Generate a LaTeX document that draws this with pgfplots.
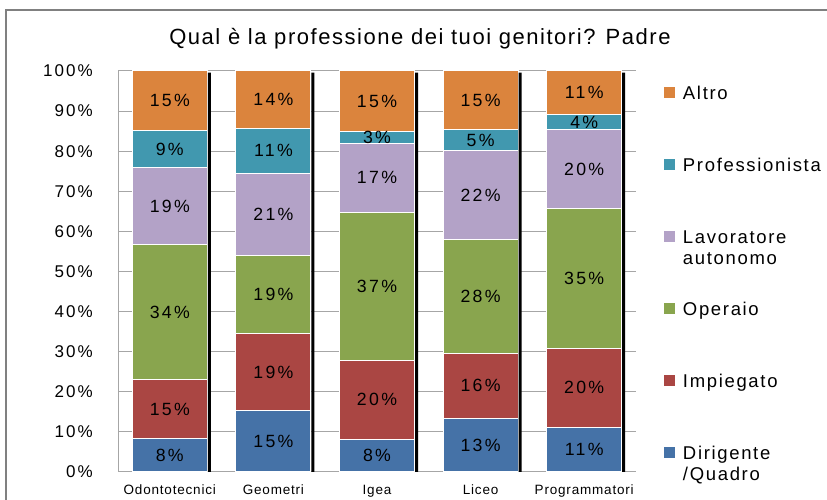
\documentclass[border=0pt]{standalone}
\usepackage{pgfplots}
\pgfplotsset{compat=1.18}
\usepackage{pgfplotstable}
\usepackage{fontspec}
\setmainfont{Liberation Sans}[LetterSpace=6]
\newfontfamily\titlefont{Liberation Sans}[LetterSpace=7]
\newfontfamily\tickfont{Liberation Sans}[LetterSpace=12]
\newfontfamily\labfont{Liberation Sans}[LetterSpace=13]
\newfontfamily\legfont{Liberation Sans}[LetterSpace=9]
\definecolor{cblue}{HTML}{4572A7}
\definecolor{cred}{HTML}{AA4643}
\definecolor{cgreen}{HTML}{89A54E}
\definecolor{cpurple}{HTML}{B3A2C7}
\definecolor{cteal}{HTML}{4198AF}
\definecolor{corange}{HTML}{DB843D}
\definecolor{cgrid}{HTML}{A6A6A6}
\definecolor{cframe}{HTML}{808080}
\pgfplotstableread{
x dir imp ope lav pro alt
0 8.4 14.6 33.7 19.2 9.2 14.9
1 15.3 19.3 19.3 20.6 11.2 14.3
2 8.2 19.7 36.9 17.2 3.0 15.0
3 13.4 16.2 28.4 22.2 5.1 14.7
4 11.2 19.7 34.7 19.7 3.8 10.9
}\data
\pgfplotstableread{
x y l
0 4.2 8\%
0 15.7 15\%
0 39.85 34\%
0 66.3 19\%
0 80.5 9\%
0 92.55 15\%
1 7.65 15\%
1 24.95 19\%
1 44.25 19\%
1 64.2 21\%
1 80.1 11\%
1 92.85 14\%
2 4.1 8\%
2 18.05 20\%
2 46.35 37\%
2 73.4 17\%
2 83.5 3\%
2 92.5 15\%
3 6.7 13\%
3 21.5 16\%
3 43.8 28\%
3 69.1 22\%
3 82.75 5\%
3 92.65 15\%
4 5.6 11\%
4 21.05 20\%
4 48.25 35\%
4 75.45 20\%
4 87.2 4\%
4 94.55 11\%
}\labels
\begin{document}
\begin{tikzpicture}
\begin{axis}[
  at={(118pt,28pt)}, anchor=south west,
  scale only axis, width=518pt, height=401pt,
  xmin=-0.5, xmax=4.5, ymin=0, ymax=100,
  ybar stacked, bar width=75pt,
  xtick={0,1,2,3,4},
  xticklabels={Odontotecnici,Geometri,Igea,Liceo,Programmatori},
  ytick={0,10,...,100},
  yticklabels={0\%,10\%,20\%,30\%,40\%,50\%,60\%,70\%,80\%,90\%,100\%},
  axis x line*=bottom, axis y line*=left,
  axis line style={cgrid, line width=1pt, -},
  major tick length=0pt,
  ymajorgrids, grid style={cgrid, line width=1pt},
  xticklabel style={anchor=base, yshift=-23pt, font=\fontsize{13.5}{16}\selectfont},
  yticklabel style={anchor=east, inner sep=0pt, xshift=-25pt, font=\tickfont\fontsize{17}{20}\selectfont},
  title={Qual è la professione dei tuoi genitori? Padre},
  title style={at={(0.583,1.050)}, anchor=base, inner sep=0pt, font=\titlefont\fontsize{22}{26}\selectfont},
  reverse legend,
  legend cell align=left,
  legend image code/.code={\fill[#1] (0pt,23.8pt) rectangle (12pt,35.8pt);},
  legend style={at={(1.0521,0.9626)}, anchor=north west, draw=none, fill=none,
    inner sep=0pt, outer sep=0pt, row sep=0pt, column sep=7pt,
    font=\legfont\fontsize{18.5}{21}\selectfont,
    nodes={inner sep=0pt, text height=13pt, text depth=58.6pt}},
]
\addplot[fill=cblue, draw=white, line width=1pt] table[x=x,y=dir] {\data};
\addlegendentry{\begin{tabular}[t]{@{}l@{}}Dirigente\\/Quadro\end{tabular}}
\addplot[fill=cred, draw=white, line width=1pt] table[x=x,y=imp] {\data};
\addlegendentry{Impiegato}
\addplot[fill=cgreen, draw=white, line width=1pt] table[x=x,y=ope] {\data};
\addlegendentry{Operaio}
\addplot[fill=cpurple, draw=white, line width=1pt] table[x=x,y=lav] {\data};
\addlegendentry{\begin{tabular}[t]{@{}l@{}}Lavoratore\\autonomo\end{tabular}}
\addplot[fill=cteal, draw=white, line width=1pt] table[x=x,y=pro] {\data};
\addlegendentry{Professionista}
\addplot[fill=corange, draw=white, line width=1pt] table[x=x,y=alt] {\data};
\addlegendentry{Altro}
\end{axis}
\begin{axis}[
  at={(118pt,28pt)}, anchor=south west,
  scale only axis, width=518pt, height=401pt,
  xmin=-0.5, xmax=4.5, ymin=0, ymax=100,
  hide axis,
]
\addplot[ybar, bar width=3pt, bar shift=39.5pt, fill=black, draw=none]
  coordinates {(0,99.6) (1,99.6) (2,99.6) (3,99.6) (4,99.6)};
\addplot[draw=none, mark=none, nodes near coords, point meta=explicit symbolic,
  nodes near coords style={anchor=center, inner sep=0pt, font=\labfont\fontsize{17.7}{20}\selectfont}]
  table[x=x,y=y,meta=l] {\labels};
\end{axis}
\draw[cframe, line width=1.5pt] (6pt,-5pt) -- (6pt,490pt) -- (835pt,490pt);
\pgfresetboundingbox
\useasboundingbox (0,0) rectangle (827pt,500pt);
\end{tikzpicture}
\end{document}
